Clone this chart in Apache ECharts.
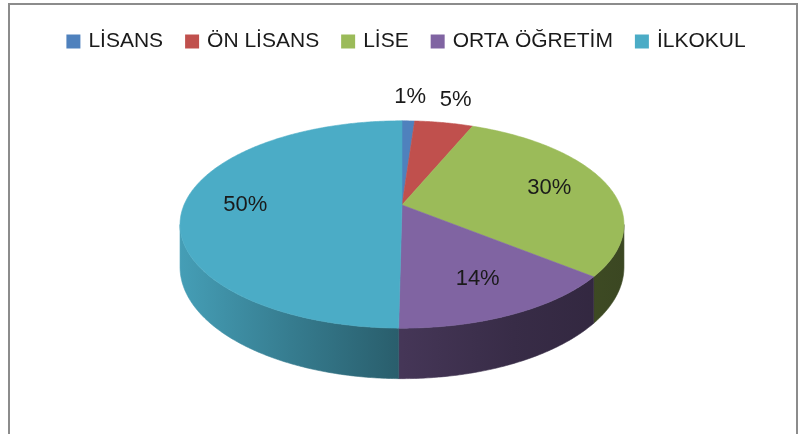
<!DOCTYPE html>
<html>
<head>
<meta charset="utf-8">
<script src="https://cdn.jsdelivr.net/npm/echarts@6/dist/echarts.min.js"></script>
<style>
  html, body { margin: 0; padding: 0; background: #fff; }
  #chart { width: 812px; height: 434px; }
</style>
</head>
<body>
<div id="chart"></div>
<script>
'use strict';

const categories = ['LİSANS', 'ÖN LİSANS', 'LİSE', 'ORTA ÖĞRETİM', 'İLKOKUL'];
const values = [1.1, 5.1, 29.7, 14.3, 49.8];
const colors = ['#4f81bd', '#c0504d', '#9bbb59', '#8064a2', '#4bacc6'];

const total = values.reduce((s, v) => s + v, 0);
const starts = [];
let acc = 0;
values.forEach(v => { starts.push(acc); acc += v; });

// tilted disc: centre, radii, wall depth, perspective strength
const disc = { cx: 402, cy: 205, rx: 218, ry: 100, depth: 41, persp: 0.188 };
// wall brightness from left (0) to right (1)
const shadeStops = [[0, 0.92], [0.25, 0.72], [0.5, 0.54], [0.75, 0.44], [1, 0.38]];

function proj(r, t, down) {
  const c = r * Math.cos(t);
  const w = 1 + disc.persp * c;
  return [
    disc.cx + disc.rx * r * Math.sin(t) / w,
    disc.cy - disc.ry * c / w + (down ? disc.depth / w : 0)
  ];
}

function arc(a, b, down) {
  const n = Math.max(2, Math.ceil(Math.abs(b - a) / 0.01));
  const pts = [];
  for (let k = 0; k <= n; k++) pts.push(proj(1, a + (b - a) * k / n, down));
  return pts;
}

function shade(hex, f) {
  const n = parseInt(hex.slice(1), 16);
  const r = Math.round(((n >> 16) & 255) * f);
  const g = Math.round(((n >> 8) & 255) * f);
  const b = Math.round((n & 255) * f);
  return `rgb(${r},${g},${b})`;
}

// silhouette of the side wall
const tL = Math.acos(-disc.persp);
const tR = 2 * Math.PI - tL;
const xLeft = proj(1, tR)[0];
const xRight = proj(1, tL)[0];

function renderSlice(params, api) {
  const i = params.seriesIndex;
  const a = starts[i] / total * 2 * Math.PI;
  const b = (starts[i] + values[i]) / total * 2 * Math.PI;
  const color = colors[i];
  const children = [];

  const lo = Math.max(a, tL);
  const hi = Math.min(b, tR);
  if (lo < hi) {
    const pts = arc(lo, hi, false).concat(arc(hi, lo, true));
    const grad = new echarts.graphic.LinearGradient(xLeft, 0, xRight, 0,
      shadeStops.map(s => ({ offset: s[0], color: shade(color, s[1]) })), true);
    children.push({
      type: 'polygon', shape: { points: pts }, z2: 1,
      style: { fill: grad, stroke: grad, lineWidth: 0.6 }
    });
  }

  const top = [[disc.cx, disc.cy]].concat(arc(a, b, false));
  children.push({
    type: 'polygon', shape: { points: top }, z2: 2,
    style: { fill: color, stroke: color, lineWidth: 0.6 }
  });

  const share = values[i] / total;
  const lp = proj(share < 0.08 ? 1.35 : 0.72, (a + b) / 2, false);
  children.push({
    type: 'text', x: lp[0], y: lp[1], z2: 3,
    style: {
      text: Math.round(share * 100) + '%',
      align: 'center', verticalAlign: 'middle',
      fontSize: 22, fontFamily: 'Liberation Sans', fill: '#1a1a1a'
    }
  });
  return { type: 'group', children };
}

const chart = echarts.init(document.getElementById('chart'));
chart.setOption({
  backgroundColor: '#fff',
  animation: false,
  color: colors,
  legend: {
    top: 26,
    left: 'center',
    icon: 'rect',
    itemWidth: 14,
    itemHeight: 14,
    itemGap: 22,
    textStyle: { fontSize: 21, fontFamily: 'Liberation Sans', color: '#1a1a1a', padding: [0, 0, 0, 3] },
    data: categories
  },
  graphic: [{
    type: 'rect', silent: true,
    shape: { x: 9, y: 4, width: 788, height: 460 },
    style: { fill: 'none', stroke: '#8c8c8c', lineWidth: 2 }
  }],
  series: categories.map((name, i) => ({
    type: 'custom',
    name: name,
    coordinateSystem: 'none',
    silent: true,
    itemStyle: { color: colors[i] },
    renderItem: renderSlice,
    data: [values[i]]
  }))
});
</script>
</body>
</html>
